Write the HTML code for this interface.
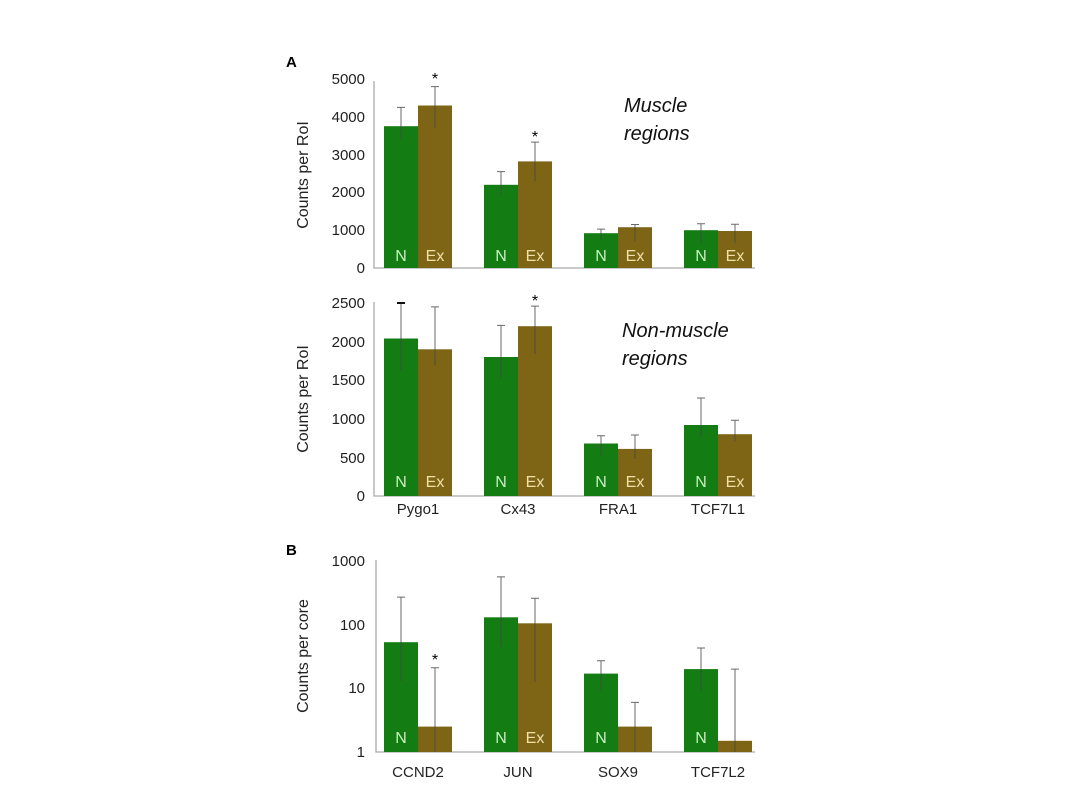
<!DOCTYPE html><html><head><style>body{margin:0;background:#fff}svg{display:block}text{font-family:"Liberation Sans",sans-serif}</style></head><body>
<svg width="1080" height="810" viewBox="0 0 1080 810" xmlns="http://www.w3.org/2000/svg">
<defs><style>.g{fill:#137d14}.b{fill:#7e6516}.e{stroke:#444;stroke-width:1;fill:none;opacity:.8}.ax{stroke:#aaa;stroke-width:1.3;fill:none}.t{font-size:15px;fill:#222;text-anchor:end}.c{font-size:15px;fill:#222;text-anchor:middle}.in{font-size:16px;text-anchor:middle}</style></defs>
<text x="286" y="67" font-size="15" font-weight="bold">A</text>
<text x="286" y="555" font-size="15" font-weight="bold">B</text>
<!-- Panel 1 -->
<path class="ax" d="M374 81V268H755"/>
<g class="t"><text x="365" y="273">0</text><text x="365" y="235">1000</text><text x="365" y="197">2000</text><text x="365" y="160">3000</text><text x="365" y="122">4000</text><text x="365" y="84">5000</text></g>
<text transform="translate(308,175) rotate(-90)" font-size="16" text-anchor="middle" fill="#222">Counts per RoI</text>
<rect class="g" x="384" y="126.2" width="34" height="141.8"/><rect class="b" x="418" y="105.5" width="34" height="162.5"/>
<rect class="g" x="484" y="184.8" width="34" height="83.2"/><rect class="b" x="518" y="161.4" width="34" height="106.6"/>
<rect class="g" x="584" y="233.2" width="34" height="34.8"/><rect class="b" x="618" y="227.2" width="34" height="40.8"/>
<rect class="g" x="684" y="230.2" width="34" height="37.8"/><rect class="b" x="718" y="231" width="34" height="37"/>
<path class="e" d="M401 139.5V107.4M397 107.4h8M435 128.1V86.6M431 86.6h8M501 194.3V171.6M497 171.6h8M535 181.1V142.1M531 142.1h8M601 239.6V229.1M597 229.1h8M635 241.5V224.5M631 224.5h8M701 243.4V223.8M697 223.8h8M735 243.4V224.2M731 224.2h8"/>
<text x="435" y="84" font-size="16" text-anchor="middle">*</text><text x="535" y="142" font-size="16" text-anchor="middle">*</text>
<g class="in"><text x="401" y="261" fill="#c8f0c0">N</text><text x="435" y="261" fill="#f0e0a8">Ex</text><text x="501" y="261" fill="#c8f0c0">N</text><text x="535" y="261" fill="#f0e0a8">Ex</text><text x="601" y="261" fill="#c8f0c0">N</text><text x="635" y="261" fill="#f0e0a8">Ex</text><text x="701" y="261" fill="#c8f0c0">N</text><text x="735" y="261" fill="#f0e0a8">Ex</text></g>
<text x="624" y="112" font-size="20" font-style="italic" fill="#111">Muscle</text><text x="624" y="140" font-size="20" font-style="italic" fill="#111">regions</text>
<!-- Panel 2 -->
<path class="ax" d="M374 302V496H755"/>
<g class="t"><text x="365" y="501">0</text><text x="365" y="463">500</text><text x="365" y="424">1000</text><text x="365" y="385">1500</text><text x="365" y="347">2000</text><text x="365" y="308">2500</text></g>
<text transform="translate(308,399) rotate(-90)" font-size="16" text-anchor="middle" fill="#222">Counts per RoI</text>
<rect class="g" x="384" y="338.5" width="34" height="157.5"/><rect class="b" x="418" y="349.3" width="34" height="146.7"/>
<rect class="g" x="484" y="357" width="34" height="139"/><rect class="b" x="518" y="326.2" width="34" height="169.8"/>
<rect class="g" x="584" y="443.5" width="34" height="52.5"/><rect class="b" x="618" y="448.9" width="34" height="47.1"/>
<rect class="g" x="684" y="425" width="34" height="71"/><rect class="b" x="718" y="434.2" width="34" height="61.8"/>
<path class="e" d="M401 370.9V303M435 365.5V306.9M431 306.9h8M501 377.9V325.4M497 325.4h8M535 354V306.1M531 306.1h8M601 455.1V435.8M597 435.8h8M635 459V435M631 435h8M701 437.3V398M697 398h8M735 441.2V420.3M731 420.3h8"/>
<path d="M397 303h8" stroke="#111" stroke-width="2"/>
<text x="535" y="306" font-size="16" text-anchor="middle">*</text>
<g class="in"><text x="401" y="487" fill="#c8f0c0">N</text><text x="435" y="487" fill="#f0e0a8">Ex</text><text x="501" y="487" fill="#c8f0c0">N</text><text x="535" y="487" fill="#f0e0a8">Ex</text><text x="601" y="487" fill="#c8f0c0">N</text><text x="635" y="487" fill="#f0e0a8">Ex</text><text x="701" y="487" fill="#c8f0c0">N</text><text x="735" y="487" fill="#f0e0a8">Ex</text></g>
<text x="622" y="337" font-size="20" font-style="italic" fill="#111">Non-muscle</text><text x="622" y="365" font-size="20" font-style="italic" fill="#111">regions</text>
<g class="c"><text x="418" y="514">Pygo1</text><text x="518" y="514">Cx43</text><text x="618" y="514">FRA1</text><text x="718" y="514">TCF7L1</text></g>
<!-- Panel 3 -->
<path class="ax" d="M376 560V752H755"/>
<g class="t"><text x="365" y="757">1</text><text x="365" y="693">10</text><text x="365" y="630">100</text><text x="365" y="566">1000</text></g>
<text transform="translate(308,656) rotate(-90)" font-size="16" text-anchor="middle" fill="#222">Counts per core</text>
<rect class="g" x="384" y="642.2" width="34" height="109.8"/><rect class="b" x="418" y="726.6" width="34" height="25.4"/>
<rect class="g" x="484" y="617.3" width="34" height="134.7"/><rect class="b" x="518" y="623.3" width="34" height="128.7"/>
<rect class="g" x="584" y="673.6" width="34" height="78.4"/><rect class="b" x="618" y="726.6" width="34" height="25.4"/>
<rect class="g" x="684" y="669.1" width="34" height="82.9"/><rect class="b" x="718" y="740.8" width="34" height="11.2"/>
<path class="e" d="M401 681V597.1M397 597.1h8M435 752V667.8M431 667.8h8M501 646.7V576.9M497 576.9h8M535 682.1V598.2M531 598.2h8M601 691.2V660.8M597 660.8h8M635 752V702.4M631 702.4h8M701 691.2V648M697 648h8M735 752V669.1M731 669.1h8"/>
<text x="435" y="665" font-size="16" text-anchor="middle">*</text>
<g class="in"><text x="401" y="743" fill="#c8f0c0">N</text><text x="501" y="743" fill="#c8f0c0">N</text><text x="535" y="743" fill="#f0e0a8">Ex</text><text x="601" y="743" fill="#c8f0c0">N</text><text x="701" y="743" fill="#c8f0c0">N</text></g>
<g class="c"><text x="418" y="777">CCND2</text><text x="518" y="777">JUN</text><text x="618" y="777">SOX9</text><text x="718" y="777">TCF7L2</text></g>
</svg></body></html>
